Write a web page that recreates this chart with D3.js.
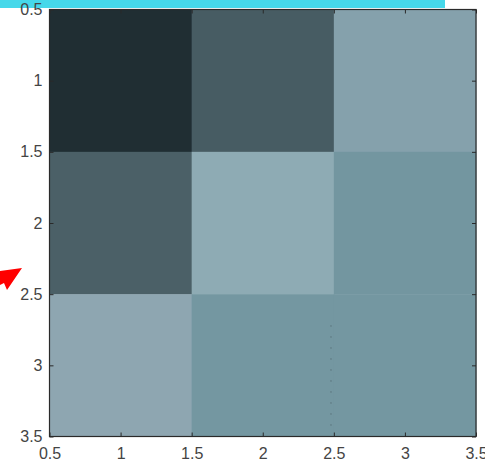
<!DOCTYPE html>
<html><head><meta charset="utf-8">
<script src="https://cdn.jsdelivr.net/npm/d3@7"></script>
<style>body{margin:0;background:#fff}svg{display:block}</style>
</head><body>
<script>
const rows = [1, 2, 3];
const cols = [1, 2, 3];
const values = [
  [0.00, 0.28, 0.90],
  [0.31, 1.00, 0.79],
  [0.95, 0.80, 0.80]
];
const tickVals = [0.5, 1, 1.5, 2, 2.5, 3, 3.5];
const tickLabels = ["0.5", "1", "1.5", "2", "2.5", "3", "3.5"];

const W = 485, H = 464;
const L = 49.5, R = 476, T = 9.5, B = 436.5;
const svg = d3.select("body").append("svg").attr("width", W).attr("height", H);

const x = d3.scaleLinear().domain([0.5, 3.5]).range([L, R]);
const y = d3.scaleLinear().domain([0.5, 3.5]).range([T, B]);
const color = d3.scaleLinear().domain([0, 0.3, 0.8, 0.95, 1])
  .range(["#202e33", "#4a5f66", "#7497a1", "#8ea6b1", "#8eabb4"]);

// cyan bar at top
svg.append("rect").attr("x", 0).attr("y", 0).attr("width", 445).attr("height", 8).attr("fill", "#46d8ea");

const cells = [];
rows.forEach((r, i) => cols.forEach((c, j) => cells.push({r, c, v: values[i][j]})));
svg.append("g").selectAll("rect").data(cells).join("rect")
  .attr("x", d => x(d.c - 0.5)).attr("y", d => y(d.r - 0.5))
  .attr("width", d => x(d.c + 0.5) - x(d.c - 0.5) + 0.5)
  .attr("height", d => y(d.r + 0.5) - y(d.r - 0.5) + 0.5)
  .attr("fill", d => color(d.v));

// faint dotted artifact
svg.append("line").attr("x1", x(2.48)).attr("x2", x(2.48)).attr("y1", y(2.72)).attr("y2", y(3.45))
  .attr("stroke", "#4a5f66").attr("stroke-width", 1).attr("stroke-dasharray", "1,10");

const fmt = (d) => tickLabels[tickVals.indexOf(d)];
const axB = d3.axisBottom(x).tickValues(tickVals).tickFormat(fmt).tickSizeInner(-4).tickSizeOuter(0).tickPadding(11);
const axT = d3.axisTop(x).tickValues(tickVals).tickFormat("").tickSizeInner(-4).tickSizeOuter(0);
const axL = d3.axisLeft(y).tickValues(tickVals).tickFormat(fmt).tickSizeInner(-4).tickSizeOuter(0).tickPadding(7);
const axR = d3.axisRight(y).tickValues(tickVals).tickFormat("").tickSizeInner(-4).tickSizeOuter(0);

function style(g) {
  g.select(".domain").remove();
  g.selectAll(".tick line").attr("stroke", "#2a2a2a");
  g.selectAll("text").attr("fill", "#444").style("font-family", "'Liberation Sans', Arial, sans-serif").style("font-size", "16px");
}
svg.append("g").attr("transform", `translate(0,${B})`).call(axB).call(style);
svg.append("g").attr("transform", `translate(0,${T})`).call(axT).call(style);
svg.append("g").attr("transform", `translate(${L},0)`).call(axL).call(style);
svg.append("g").attr("transform", `translate(${R},0)`).call(axR).call(style);

svg.append("rect").attr("x", L).attr("y", T).attr("width", R - L).attr("height", B - T)
  .attr("fill", "none").attr("stroke", "#2a2a2a").attr("stroke-width", 1.2);

// red arrow marker at left
svg.append("polygon").attr("points", "0,271 22,268 7,290 4,283 0,285").attr("fill", "#ff0000");
</script>
</body></html>
